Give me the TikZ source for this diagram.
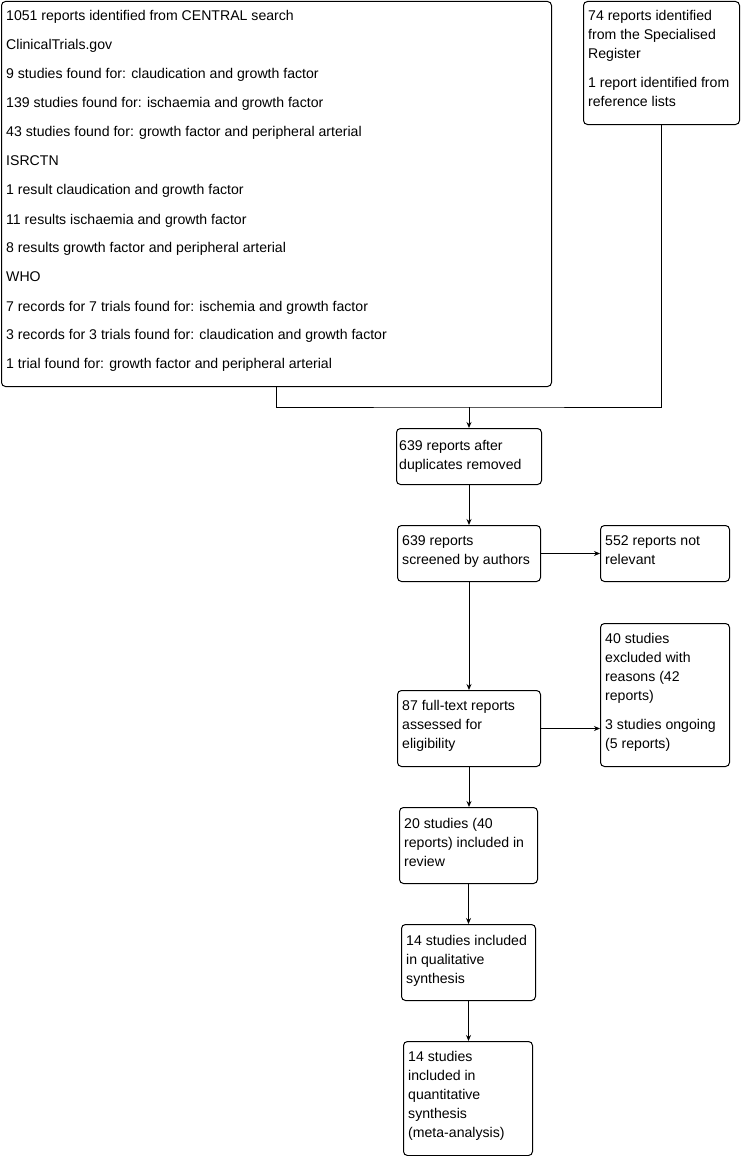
\documentclass[tikz,border=0pt]{standalone}
\usepackage{fontspec}
\setmainfont{Liberation Sans}
\usetikzlibrary{calc,arrows.meta}
\newcommand{\ptext}[2]{\begin{minipage}[t]{#1pt}\fontsize{14.1pt}{19pt}\selectfont\setlength\parskip{10pt}\raggedright #2\end{minipage}}
\begin{document}
\begin{tikzpicture}[x=1pt,y=-1pt,
  box/.style={draw, line width=1pt, rounded corners=4pt, inner sep=0pt, anchor=north west},
  txt/.style={anchor=base west, inner sep=0pt},
  arr/.style={line width=1pt, -{Stealth[length=6pt,width=5pt]}},
  ln/.style={line width=1pt}]
\useasboundingbox (0,0) rectangle (742,1156);
% boxes
\node[box, minimum width=550, minimum height=385] (A) at (1,1) {};
\node[box, minimum width=156, minimum height=123] (B) at (583,1) {};
\node[box, minimum width=145, minimum height=56] (C) at (396,428) {};
\node[box, minimum width=143, minimum height=56] (D) at (397,525) {};
\node[box, minimum width=129, minimum height=56] (E) at (600,525) {};
\node[box, minimum width=143, minimum height=76] (F) at (397,690) {};
\node[box, minimum width=129, minimum height=143] (G) at (600,623) {};
\node[box, minimum width=138, minimum height=76] (H) at (399,807) {};
\node[box, minimum width=134, minimum height=76] (I) at (401,924) {};
\node[box, minimum width=129, minimum height=114] (J) at (403,1041) {};
% texts
\node[txt] (tA) at ($(A.north west)+(5,20)$) {\ptext{540}{1051 reports identified from CENTRAL search\par
ClinicalTrials.gov\par
9 studies found for: claudication and growth factor\par
139 studies found for: ischaemia and growth factor\par
43 studies found for: growth factor and peripheral arterial\par
ISRCTN\par
1 result claudication and growth factor\par
11 results ischaemia and growth factor\par
8 results growth factor and peripheral arterial\par
WHO\par
7 records for 7 trials found for: ischemia and growth factor\par
3 records for 3 trials found for: claudication and growth factor\par
1 trial found for: growth factor and peripheral arterial}};
\node[txt] (tB) at ($(B.north west)+(5,20)$) {\ptext{160}{74 reports identified\\from the Specialised\\Register\par
1 report identified from\\reference lists}};
\node[txt] (tC) at ($(C.north west)+(3,22)$) {\ptext{150}{639 reports after\\duplicates removed}};
\node[txt] (tD) at ($(D.north west)+(5,20.5)$) {\ptext{150}{639 reports\\screened by authors}};
\node[txt] (tE) at ($(E.north west)+(5,20.5)$) {\ptext{150}{552 reports not\\relevant}};
\node[txt] (tF) at ($(F.north west)+(5,20)$) {\ptext{150}{87 full-text reports\\assessed for\\eligibility}};
\node[txt] (tG) at ($(G.north west)+(5,20)$) {\ptext{150}{40 studies\\excluded with\\reasons (42\\reports)\par
3 studies ongoing\\(5 reports)}};
\node[txt] (tH) at ($(H.north west)+(5,21)$) {\ptext{150}{20 studies (40\\reports) included in\\review}};
\node[txt] (tI) at ($(I.north west)+(5,21)$) {\ptext{150}{14 studies included\\in qualitative\\synthesis}};
\node[txt] (tJ) at ($(J.north west)+(5,20)$) {\ptext{150}{14 studies\\included in\\quantitative\\synthesis\\(meta-analysis)}};
% connectors
\coordinate (j) at (C.north |- 0,407);
\draw[ln] (A.south) |- (j) -| (B.south);
\draw[arr] (j) -- (C.north);
\draw[arr] (C.south) -- (D.north);
\draw[arr] (D.east) -- (E.west);
\draw[arr] (D.south) -- (F.north);
\draw[arr] (F.east) -- (F.east -| G.west);
\draw[arr] (F.south) -- (F.south |- H.north);
\draw[arr] (H.south) -- (H.south |- I.north);
\draw[arr] (I.south) -- (I.south |- J.north);
\end{tikzpicture}
\end{document}
